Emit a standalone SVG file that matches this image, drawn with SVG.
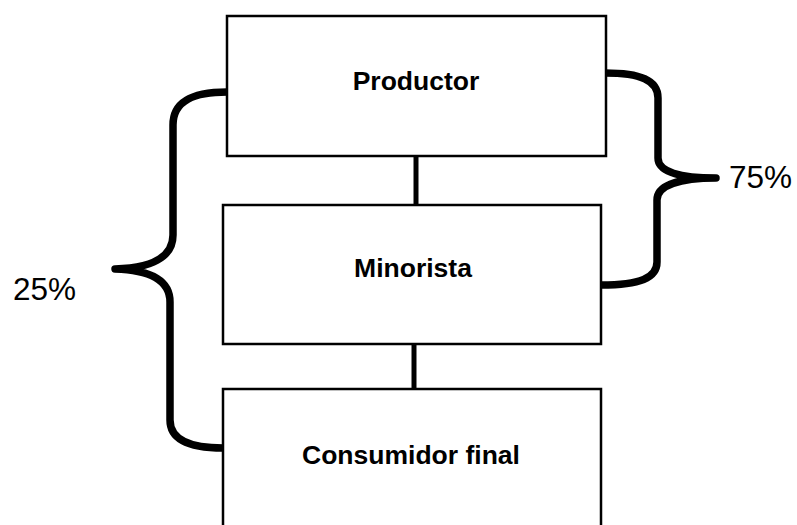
<svg xmlns="http://www.w3.org/2000/svg" width="797" height="525" viewBox="0 0 797 525">
<style>
.box{fill:#fff;stroke:#000;stroke-width:2.5}
.lbl{font-family:"Liberation Sans",Arial,sans-serif;font-weight:bold;font-size:26.5px;text-anchor:middle;fill:#000}
.pct{font-family:"Liberation Sans",Arial,sans-serif;font-size:31.5px;fill:#000}
.conn{stroke:#000;stroke-width:5;fill:none}
.brace{stroke:#000;stroke-width:7.5;fill:none;stroke-linecap:round;stroke-linejoin:round}
</style>
<rect width="797" height="525" fill="#fff"/>
<g id="connectors">
<line class="conn" x1="416" y1="156" x2="416" y2="205"/>
<line class="conn" x1="414" y1="344" x2="414" y2="389"/>
<path class="brace" d="M227,92 C195,92 173,100 173,125 L173,235 C173,258 150,268 115,269 C150,270 170,280 170,302 L170,420 C170,440 190,448 223,448"/>
<path class="brace" d="M605,73 C640,73 658,80 658,98 L658,158 C658,172 680,178 716,178 C680,178 657,185 657,200 L657,262 C657,278 640,285 601,285"/>
</g>
<g id="productor">
<rect class="box" x="227" y="16" width="379" height="140"/>
<text class="lbl" x="416" y="90">Productor</text>
</g>
<g id="minorista">
<rect class="box" x="223" y="205" width="378" height="139"/>
<text class="lbl" x="413" y="277">Minorista</text>
</g>
<g id="consumidor">
<rect class="box" x="223" y="389" width="378" height="145"/>
<text class="lbl" x="411" y="464">Consumidor final</text>
</g>
<g id="labels">
<text class="pct" x="13" y="300">25%</text>
<text class="pct" x="729" y="188">75%</text>
</g>
</svg>
